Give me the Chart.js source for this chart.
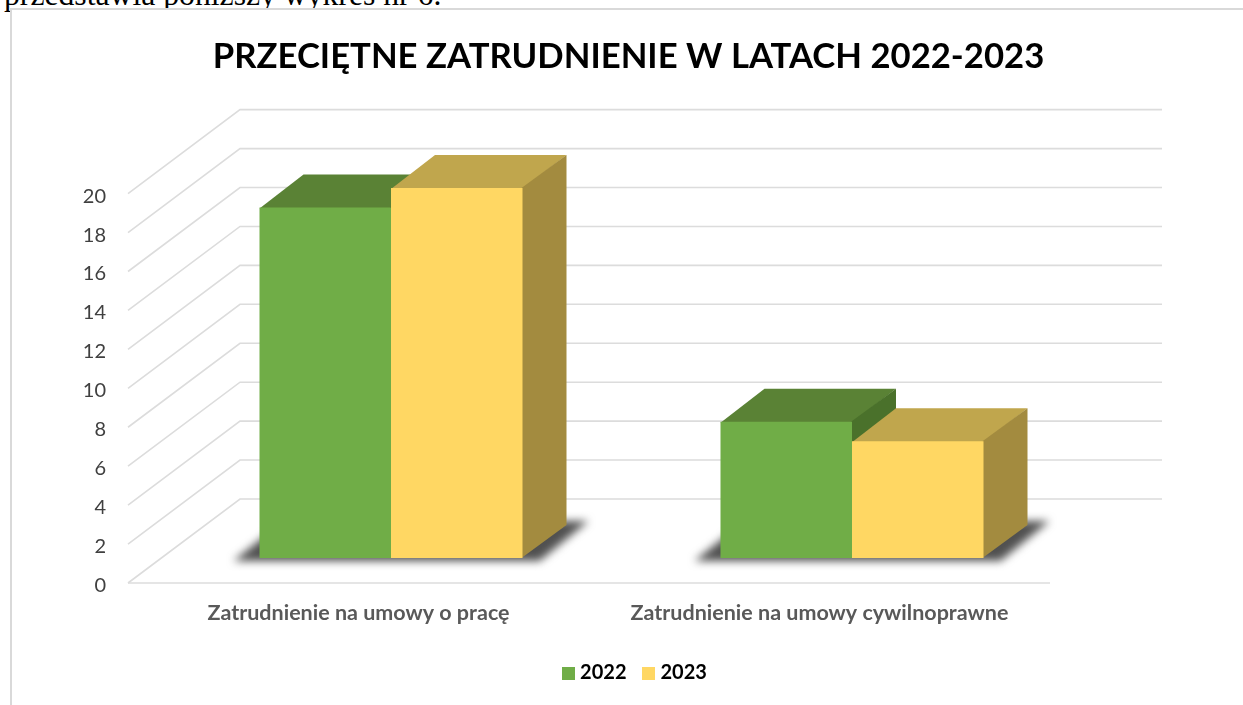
<!DOCTYPE html>
<html lang="pl">
<head>
<meta charset="utf-8">
<title>Przeciętne zatrudnienie w latach 2022-2023</title>
<style>
html,body{margin:0;padding:0;width:1243px;height:705px;overflow:hidden;background:#fff}
#intro{position:absolute;left:4px;top:-17px;font:31.7px/24px "Liberation Serif",serif;color:#000;white-space:nowrap}
#card{position:absolute;left:10px;top:8px;width:1300px;height:760px;background:#fff;border-top:2px solid #d9d9d9;border-left:2px solid #d9d9d9}
canvas{position:absolute;left:0;top:0;filter:blur(0.4px)}
</style>
<script src="https://cdn.jsdelivr.net/npm/chart.js@4"></script>
</head>
<body>
<div id="intro">przedstawia poniższy wykres nr 6.</div>
<div id="card"></div>
<canvas id="c" width="1243" height="705"></canvas>
<script>
const categories = ['Zatrudnienie na umowy o pracę', 'Zatrudnienie na umowy cywilnoprawne'];
const values2022 = [18, 7];
const values2023 = [19, 6];
const seriesNames = ['2022', '2023'];
const titleText = 'PRZECIĘTNE ZATRUDNIENIE W LATACH 2022-2023';

const frontColors = ['#70AD47', '#FFD763'];
const topColors = ['#5A8235', '#C0A64D'];
const sideColors = ['#4A712B', '#A38B3F'];
const FLOOR = {dx: 112, dy: -84};
const BAR_SHIFT = {dx: 32.5, dy: -25};
const BAR_DEPTH = {dx: 44, dy: -33};

function swatch(color) {
  const c = document.createElement('canvas');
  c.width = 13; c.height = 13;
  const g = c.getContext('2d');
  g.fillStyle = color;
  g.fillRect(0, 0, 13, 13);
  return c;
}
const swatches = frontColors.map(swatch);

const walls3d = {
  id: 'walls3d',
  afterLayout(chart) {
    const fullW = 1257;
    chart.titleBlock.left = 0; chart.titleBlock.right = fullW;
    chart.legend.left = 8; chart.legend.right = fullW + 8;
  },
  beforeDatasetsDraw(chart) {
    const {ctx, chartArea: a, scales: {y}} = chart;
    ctx.save();
    ctx.strokeStyle = '#dcdcdc';
    ctx.lineWidth = 1.6;
    y.ticks.forEach(t => {
      const py = y.getPixelForValue(t.value);
      ctx.beginPath();
      ctx.moveTo(a.left, py);
      ctx.lineTo(a.left + FLOOR.dx, py + FLOOR.dy);
      ctx.lineTo(a.right + FLOOR.dx, py + FLOOR.dy);
      ctx.stroke();
    });
    const p0 = y.getPixelForValue(0);
    ctx.beginPath();
    ctx.moveTo(a.left, p0);
    ctx.lineTo(a.right, p0);
    ctx.stroke();
    ctx.restore();

    ctx.save();
    ctx.translate(BAR_SHIFT.dx, BAR_SHIFT.dy);
    const m0 = chart.getDatasetMeta(0).data;
    const m1 = chart.getDatasetMeta(1).data;
    // floor shadow behind each pair of bars
    m0.forEach((b0, i) => {
      const left = b0.x - b0.width / 2;
      const right = m1[i].x + m1[i].width / 2;
      const base = b0.base;
      ctx.save();
      ctx.filter = 'blur(4.5px)';
      ctx.fillStyle = '#505050';
      ctx.beginPath();
      ctx.moveTo(left - 26, base + 3);
      ctx.lineTo(left + 24, base - 37);
      ctx.lineTo(right + 66, base - 37);
      ctx.lineTo(right + 17, base + 3);
      ctx.closePath();
      ctx.fill();
      ctx.restore();
    });
    // depth faces, series by series
    [m0, m1].forEach((meta, s) => {
      meta.forEach(b => {
        const l = b.x - b.width / 2, r = b.x + b.width / 2;
        ctx.fillStyle = topColors[s];
        ctx.beginPath();
        ctx.moveTo(l, b.y + 1);
        ctx.lineTo(l + BAR_DEPTH.dx, b.y + BAR_DEPTH.dy);
        ctx.lineTo(r + BAR_DEPTH.dx, b.y + BAR_DEPTH.dy);
        ctx.lineTo(r, b.y + 1);
        ctx.closePath();
        ctx.fill();
        ctx.fillStyle = sideColors[s];
        ctx.beginPath();
        ctx.moveTo(r - 1, b.y);
        ctx.lineTo(r + BAR_DEPTH.dx, b.y + BAR_DEPTH.dy);
        ctx.lineTo(r + BAR_DEPTH.dx, b.base + BAR_DEPTH.dy);
        ctx.lineTo(r - 1, b.base);
        ctx.closePath();
        ctx.fill();
      });
    });
  },
  afterDatasetsDraw(chart) {
    chart.ctx.restore();
  }
};

new Chart(document.getElementById('c'), {
  type: 'bar',
  data: {
    labels: categories,
    datasets: [
      {label: seriesNames[0], data: values2022, backgroundColor: frontColors[0], clip: false},
      {label: seriesNames[1], data: values2023, backgroundColor: frontColors[1], clip: false}
    ]
  },
  plugins: [walls3d],
  options: {
    responsive: false,
    animation: false,
    layout: {padding: {left: 0, right: 193, top: 36, bottom: 12}},
    datasets: {bar: {categoryPercentage: 0.5705, barPercentage: 1}},
    scales: {
      x: {
        grid: {display: false},
        border: {display: false},
        afterFit(s) { s.height = 60; },
        ticks: {
          padding: 9, autoSkip: false, maxRotation: 0,
          color: '#595959', font: {family: 'Lato', size: 21.5, weight: 'bold'}
        }
      },
      y: {
        min: 0, max: 20,
        grid: {display: false},
        border: {display: false},
        afterFit(s) { s.width = 128; },
        ticks: {
          stepSize: 2, padding: 14, labelOffset: 2.5,
          color: '#404040', font: {family: 'Lato', size: 20}
        }
      }
    },
    plugins: {
      tooltip: {enabled: false},
      title: {
        display: true, text: titleText, color: '#000',
        font: {family: 'Lato', size: 34.7, weight: 'bold'},
        padding: {top: 0, bottom: 116}
      },
      legend: {
        position: 'bottom',
        labels: {
          usePointStyle: true, pointStyleWidth: 4, boxHeight: 13, padding: 20,
          color: '#000', font: {family: 'Lato', size: 20, weight: 'bold'},
          generateLabels(chart) {
            const items = Chart.defaults.plugins.legend.labels.generateLabels(chart);
            items.forEach((it, i) => { it.pointStyle = swatches[i]; });
            return items;
          }
        }
      }
    }
  }
});
</script>
</body>
</html>
